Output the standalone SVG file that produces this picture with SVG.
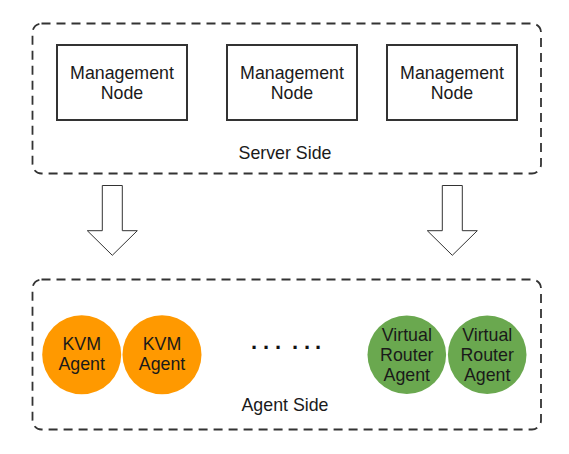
<svg xmlns="http://www.w3.org/2000/svg" width="569" height="454" viewBox="0 0 569 454">
<style>
text{font-family:"Liberation Sans",Arial,sans-serif;font-size:17.8px;fill:#1a1a1a;text-anchor:middle}
.grp{fill:none;stroke:#333;stroke-width:1.8;stroke-dasharray:9 6}
.mn{fill:#fff;stroke:#333;stroke-width:2}
.kvm{fill:#FF9900}
.vr{fill:#6AA84F}
.arr{fill:#fff;stroke:#333;stroke-width:1}
.dots{font-weight:bold;font-size:22px;text-anchor:start;fill:#111}
</style>
<rect width="569" height="454" fill="#fff"/>
<g id="server-side">
<rect class="grp" x="32.5" y="23.5" width="508.5" height="150" rx="9"/>
<text x="285" y="159">Server Side</text>
</g>
<g id="mgmt1"><rect class="mn" x="57" y="45" width="130" height="75"/><text x="122" y="79">Management</text><text x="122" y="99">Node</text></g>
<g id="mgmt2"><rect class="mn" x="227" y="45" width="130" height="75"/><text x="292" y="79">Management</text><text x="292" y="99">Node</text></g>
<g id="mgmt3"><rect class="mn" x="387" y="45" width="130" height="75"/><text x="452" y="79">Management</text><text x="452" y="99">Node</text></g>
<g id="connectors">
<path class="arr" d="M102.3 185.5 H122.3 V230.7 H137.3 L112.3 255.3 L87.3 230.7 H102.3 Z"/>
<path class="arr" d="M442.3 185.5 H462.3 V230.7 H477.3 L452.3 255.3 L427.3 230.7 H442.3 Z"/>
</g>
<g id="agent-side">
<rect class="grp" x="32.5" y="279.5" width="508.5" height="150" rx="9"/>
<text x="285" y="411">Agent Side</text>
</g>
<g id="kvm1"><circle class="kvm" cx="81.7" cy="354.7" r="39.5"/><text x="81.7" y="350">KVM</text><text x="81.7" y="370">Agent</text></g>
<g id="kvm2"><circle class="kvm" cx="162" cy="354.7" r="39.5"/><text x="162" y="350">KVM</text><text x="162" y="370">Agent</text></g>
<g id="dots"><text class="dots" x="251 263 275 284 292 304 315" y="348.5">... ...</text></g>
<g id="vr1"><circle class="vr" cx="406.8" cy="354.7" r="39.3"/><text x="406.8" y="341">Virtual</text><text x="406.8" y="361">Router</text><text x="406.8" y="381">Agent</text></g>
<g id="vr2"><circle class="vr" cx="487.2" cy="354.7" r="39.3"/><text x="487.2" y="341">Virtual</text><text x="487.2" y="361">Router</text><text x="487.2" y="381">Agent</text></g>
</svg>
